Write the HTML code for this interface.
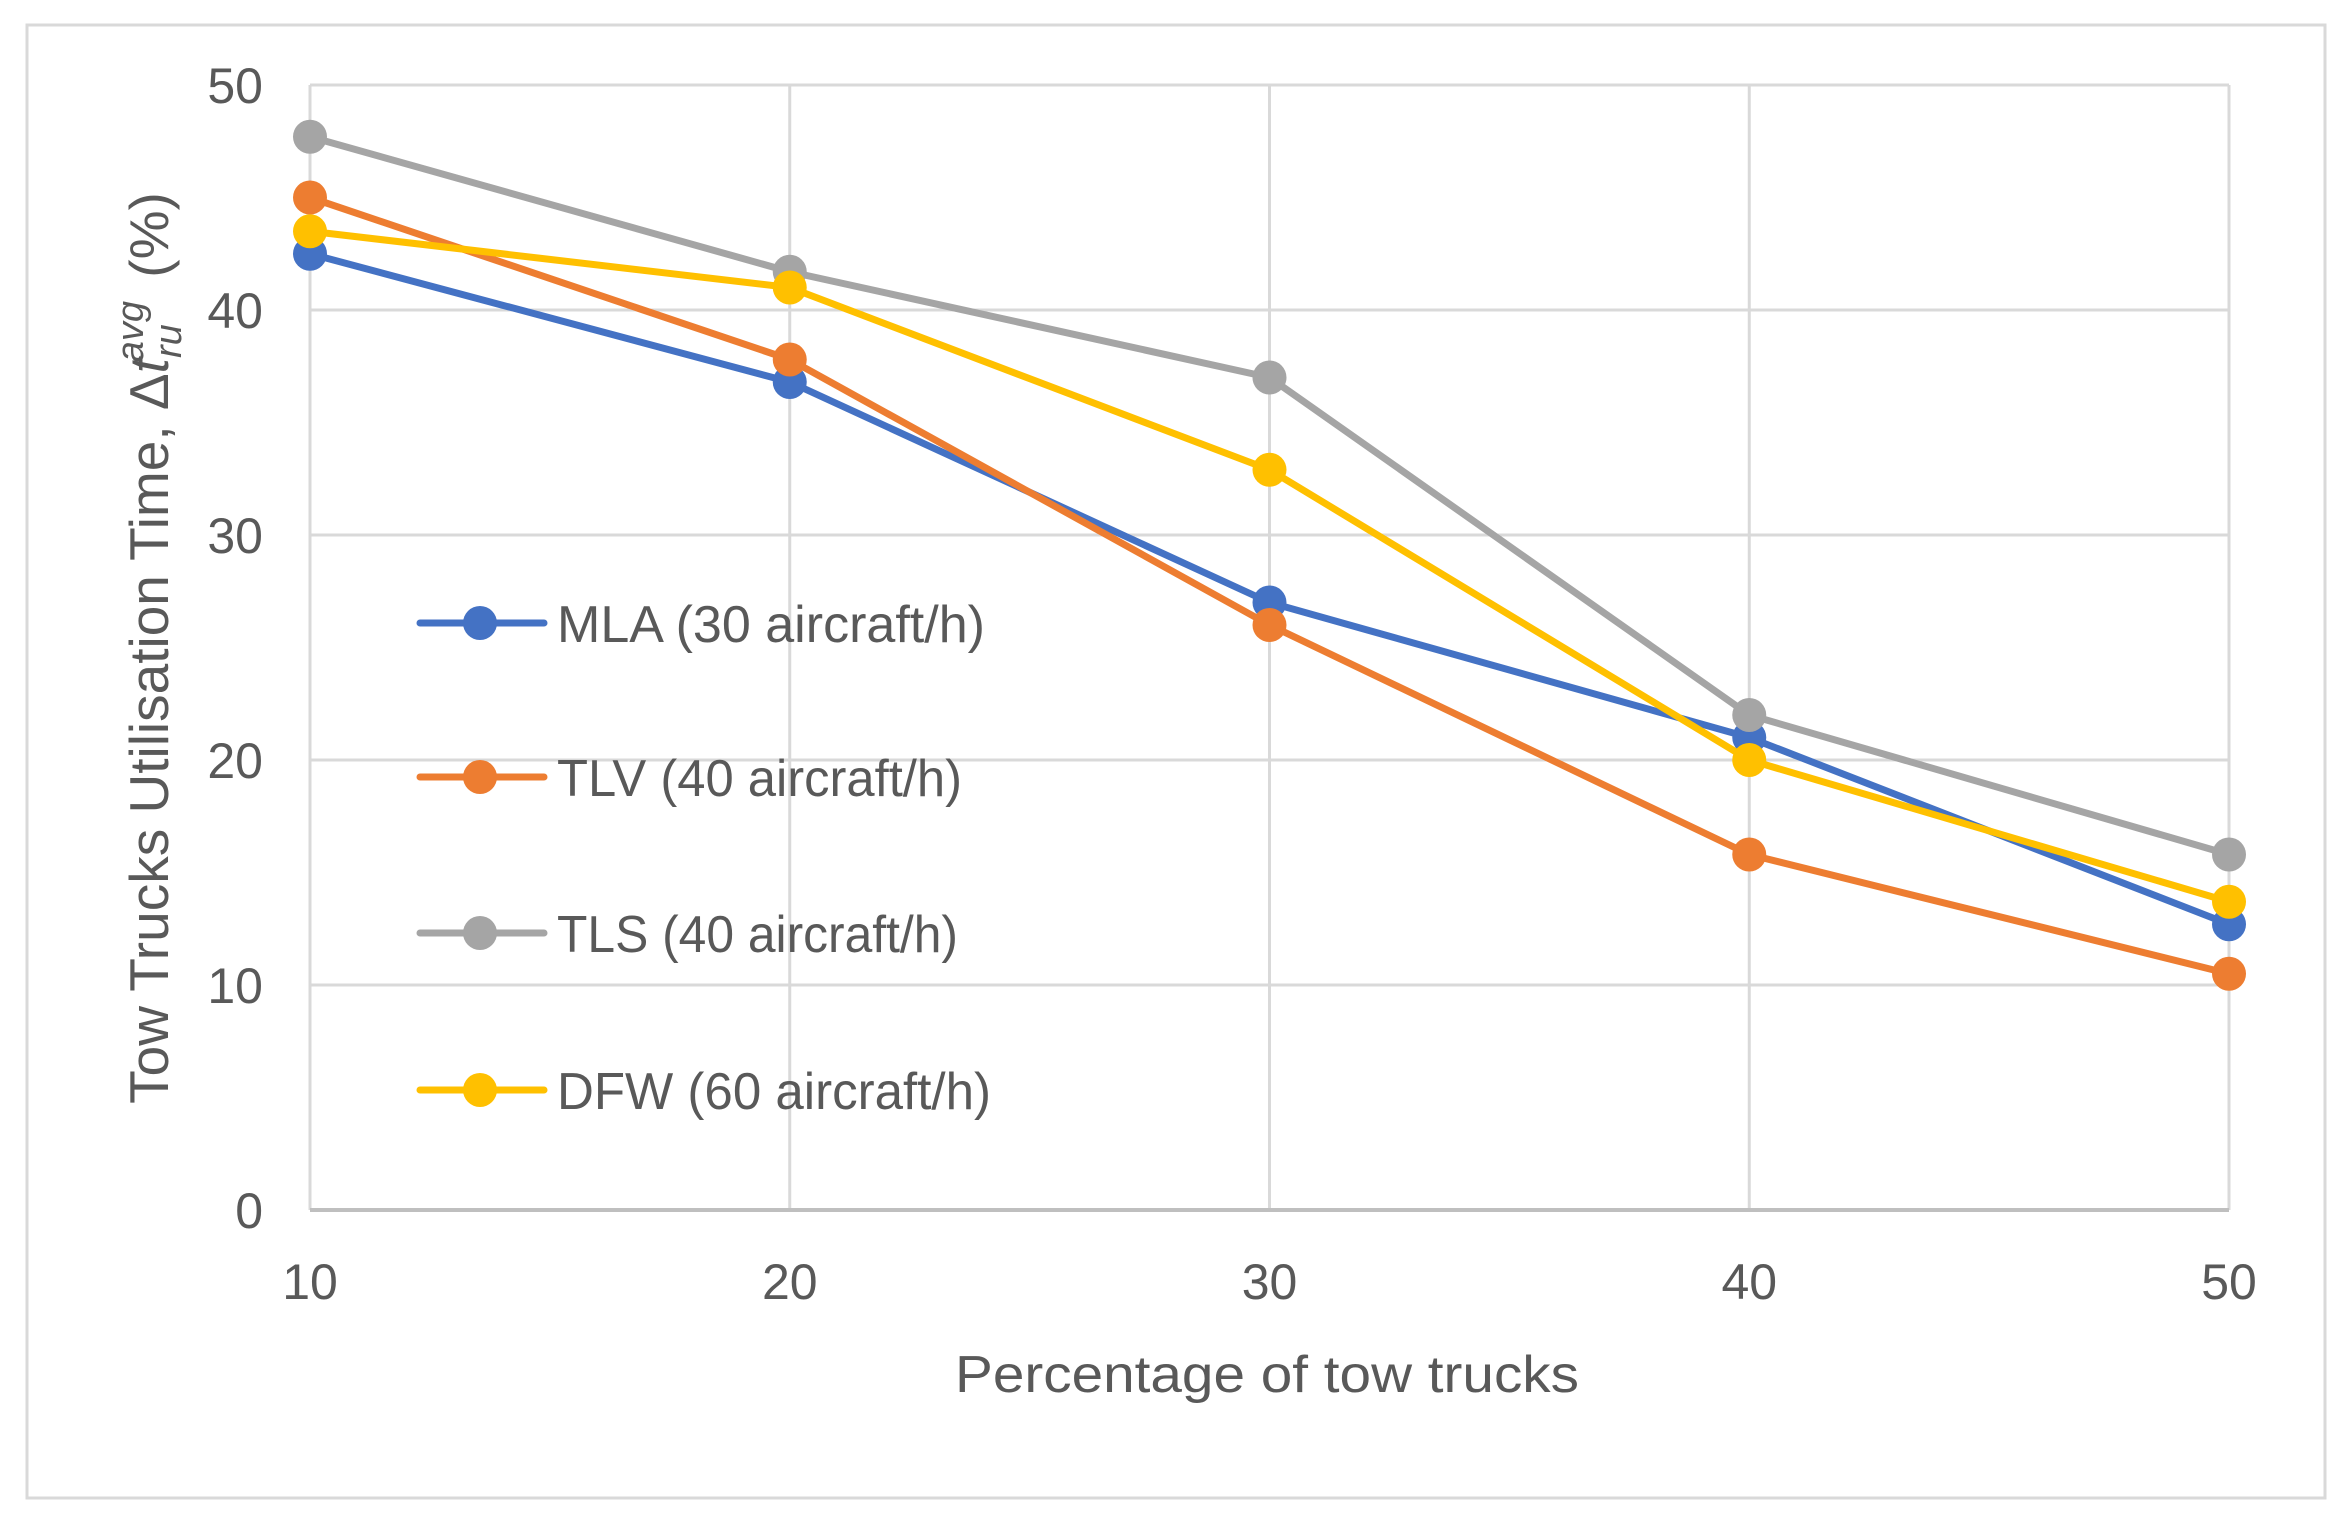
<!DOCTYPE html>
<html><head><meta charset="utf-8"><style>
html,body{margin:0;padding:0;background:#fff;}
svg{display:block;font-family:"Liberation Sans",sans-serif;}
</style></head><body>
<svg id="chart" width="2346" height="1525" viewBox="0 0 2346 1525" xmlns="http://www.w3.org/2000/svg">
<rect x="27" y="25" width="2298" height="1473" fill="#fff" stroke="#d9d9d9" stroke-width="3"/>
<g id="grid"></g>
<g id="axes"></g>
<g id="series"></g>
<g id="legend"></g>
<text x="1267" y="1392" font-size="52" fill="#595959" text-anchor="middle" textLength="624" lengthAdjust="spacingAndGlyphs">Percentage of tow trucks</text>
<text transform="translate(168,648) rotate(-90)" font-size="55" fill="#595959" text-anchor="middle">Tow Trucks Utilisation Time, Δ<tspan font-style="italic">t</tspan><tspan font-style="italic" font-size="38" dy="13">ru</tspan><tspan font-style="italic" font-size="38" dy="-38" dx="-38">avg</tspan><tspan dy="25" dx="8"> (%)</tspan></text>
</svg>
<script>
const categories = [10, 20, 30, 40, 50];
const xTicks = ["10", "20", "30", "40", "50"];
const yTicks = [0, 10, 20, 30, 40, 50];
const seriesNames = ["MLA (30 aircraft/h)", "TLV (40 aircraft/h)", "TLS (40 aircraft/h)", "DFW (60 aircraft/h)"];
const mla = [42.5, 36.8, 27.0, 21.0, 12.7];
const tlv = [45.0, 37.8, 26.0, 15.8, 10.5];
const tls = [47.7, 41.7, 37.0, 22.0, 15.8];
const dfw = [43.5, 41.0, 32.9, 20.0, 13.7];

const NS = "http://www.w3.org/2000/svg";
const X0 = 310, X1 = 2229, Y0 = 1210, Y1 = 85;
function xs(v){ return X0 + (v - 10) / 40 * (X1 - X0); }
function ys(v){ return Y0 - v / 50 * (Y0 - Y1); }
function mk(tag, attrs, parent){ const e = document.createElementNS(NS, tag); for (const k in attrs) e.setAttribute(k, attrs[k]); parent.appendChild(e); return e; }

const grid = document.getElementById('grid');
const axes = document.getElementById('axes');
yTicks.forEach(t => {
  if (t > 0) {
    const l = mk('line', {x1: X0, x2: X1, y1: ys(t), y2: ys(t), stroke: '#d9d9d9', 'stroke-width': 3}, grid);
    
    
  }
  const tx = mk('text', {x: 263, y: ys(t) + 18, 'font-size': 50, fill: '#595959', 'text-anchor': 'end'}, axes);
  tx.textContent = String(t);
  
  
});
categories.forEach((c, i) => {
  const l = mk('line', {x1: xs(c), x2: xs(c), y1: Y1, y2: Y0, stroke: '#d9d9d9', 'stroke-width': 3}, grid);
  
  
  const tx = mk('text', {x: xs(c), y: 1299, 'font-size': 50, fill: '#595959', 'text-anchor': 'middle'}, axes);
  tx.textContent = xTicks[i];
  
  
});
const ax = mk('line', {x1: X0, x2: X1, y1: Y0, y2: Y0, stroke: '#bfbfbf', 'stroke-width': 4}, axes);



const colors = ['#4472C4', '#ED7D31', '#A5A5A5', '#FFC000'];
const data = [mla, tlv, tls, dfw];
const keys = ['mla', 'tlv', 'tls', 'dfw'];
const legendLen = [428, 405, 401, 434];
const sg = document.getElementById('series');
const lg = document.getElementById('legend');
const legendY = [623, 777, 933, 1090];
data.forEach((vals, s) => {
  const g = mk('g', {}, sg);
  
  
  const pts = vals.map((v, i) => xs(categories[i]) + ',' + ys(v)).join(' ');
  const pl = mk('polyline', {points: pts, fill: 'none', stroke: colors[s], 'stroke-width': 7, 'stroke-linejoin': 'round'}, g);
  
  
  vals.forEach((v, i) => {
    const c = mk('circle', {cx: xs(categories[i]), cy: ys(v), r: 17, fill: colors[s]}, g);
    
    
  });
  const le = mk('g', {}, lg);
  
  
  mk('line', {x1: 420, x2: 544, y1: legendY[s], y2: legendY[s], stroke: colors[s], 'stroke-width': 7, 'stroke-linecap': 'round'}, le);
  mk('circle', {cx: 480, cy: legendY[s], r: 17, fill: colors[s]}, le);
  const t = mk('text', {x: 557, y: legendY[s] + 19, 'font-size': 52, fill: '#595959', textLength: legendLen[s], lengthAdjust: 'spacingAndGlyphs'}, le);
  t.textContent = seriesNames[s];
});
</script>
</body></html>
